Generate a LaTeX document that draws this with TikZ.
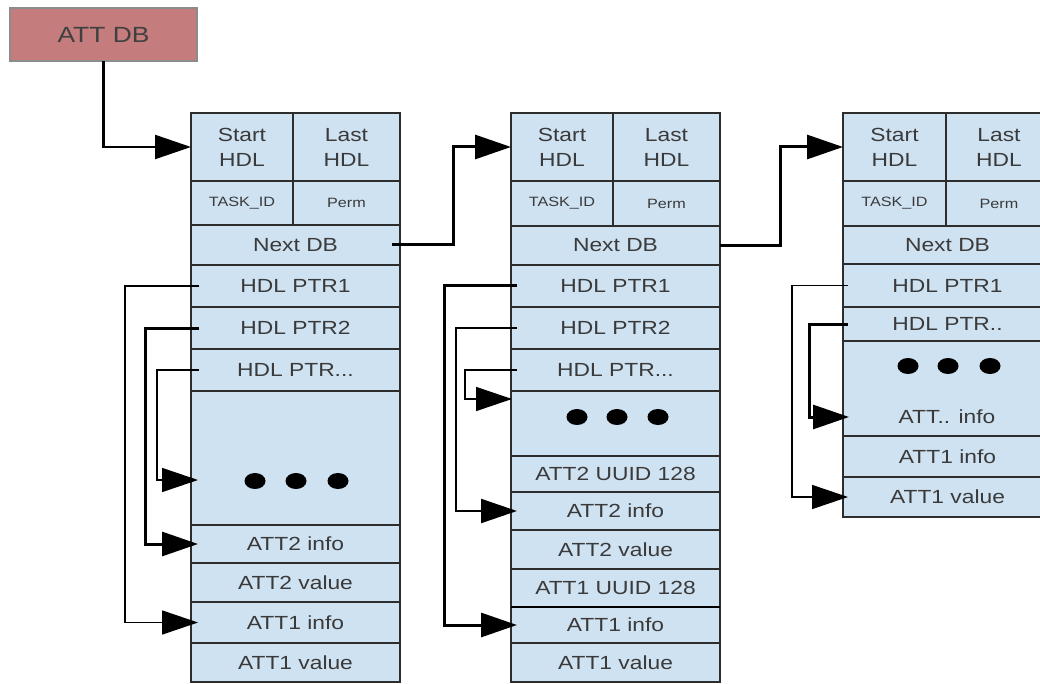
\documentclass[tikz,border=0pt]{standalone}
\usepackage{fontspec}
\setmainfont[FakeStretch=1.2]{Liberation Sans}
\usetikzlibrary{arrows.meta,shapes.geometric}
\definecolor{cellblue}{RGB}{207,226,242}
\definecolor{dbred}{RGB}{196,124,124}
\definecolor{dbedge}{RGB}{140,140,140}
\definecolor{txt}{RGB}{58,58,58}
\definecolor{edge}{RGB}{45,45,45}
\begin{document}
\begin{tikzpicture}[x=1pt,y=-1pt,
  cell/.style={draw=edge, fill=cellblue, line width=1.1pt, inner sep=0pt, outer sep=0pt,
    anchor=north west, text=txt, font=\fontsize{19}{25}\selectfont, align=center},
  smalltxt/.style={font=\fontsize{13.5}{16}\selectfont},
  dbbox/.style={draw=dbedge, fill=dbred, line width=1.2pt, inner sep=0pt, outer sep=0pt,
    anchor=north west, text=black!75, font=\fontsize{22}{26}\selectfont},
  blackdot/.style={ellipse, fill=black, minimum width=21pt, minimum height=16pt, inner sep=0pt},
  link/.style={draw=black, line width=1.6pt, -{Triangle[length=36pt,width=24pt]}},
  thicklink/.style={link, line width=3pt},
  midlink/.style={link, line width=2.2pt}
]
\useasboundingbox (0,0) rectangle (1040,684);
\clip (0,0) rectangle (1040,684);

% ATT DB
\node[dbbox, minimum width=187pt, minimum height=53pt] (attdb) at (10,8) {ATT DB};

% ---------------- Box 1 ----------------
\node[cell, minimum width=102pt, minimum height=68pt] (b1start) at (191,113) {Start\\HDL};
\node[cell, minimum width=107pt, minimum height=68pt] (b1last) at (293,113) {Last\\HDL};
\node[cell, smalltxt, minimum width=102pt, minimum height=44pt] (b1task) at (191,181) {TASK\_ID};
\node[cell, smalltxt, minimum width=107pt, minimum height=44pt] (b1perm) at (293,181) {Perm};
\node[cell, minimum width=209pt, minimum height=40pt] (b1next) at (191,225) {Next DB};
\node[cell, minimum width=209pt, minimum height=42pt] (b1p1) at (191,265) {HDL PTR1};
\node[cell, minimum width=209pt, minimum height=42pt] (b1p2) at (191,307) {HDL PTR2};
\node[cell, minimum width=209pt, minimum height=42pt] (b1p3) at (191,349) {HDL PTR...};
\node[cell, minimum width=209pt, minimum height=134pt] (b1dots) at (191,391) {};
\node[cell, minimum width=209pt, minimum height=38pt] (b1a2i) at (191,525) {ATT2 info};
\node[cell, minimum width=209pt, minimum height=39pt] (b1a2v) at (191,563) {ATT2 value};
\node[cell, minimum width=209pt, minimum height=41pt] (b1a1i) at (191,602) {ATT1 info};
\node[cell, minimum width=209pt, minimum height=39pt] (b1a1v) at (191,643) {ATT1 value};
\node[blackdot] (b1d1) at (255,481) {};
\node[blackdot] (b1d2) at (296,481) {};
\node[blackdot] (b1d3) at (338,481) {};
\coordinate (b1t3) at (198,480);

% ---------------- Box 2 ----------------
\node[cell, minimum width=102pt, minimum height=68pt] (b2start) at (511,113) {Start\\HDL};
\node[cell, minimum width=107pt, minimum height=68pt] (b2last) at (613,113) {Last\\HDL};
\node[cell, smalltxt, minimum width=102pt, minimum height=45pt] (b2task) at (511,181) {TASK\_ID};
\node[cell, smalltxt, minimum width=107pt, minimum height=45pt] (b2perm) at (613,181) {Perm};
\node[cell, minimum width=209pt, minimum height=39pt] (b2next) at (511,226) {Next DB};
\node[cell, minimum width=209pt, minimum height=42pt] (b2p1) at (511,265) {HDL PTR1};
\node[cell, minimum width=209pt, minimum height=42pt] (b2p2) at (511,307) {HDL PTR2};
\node[cell, minimum width=209pt, minimum height=42pt] (b2p3) at (511,349) {HDL PTR...};
\node[cell, minimum width=209pt, minimum height=65pt] (b2dots) at (511,391) {};
\node[cell, minimum width=209pt, minimum height=36pt] (b2u2) at (511,456) {ATT2 UUID 128};
\node[cell, minimum width=209pt, minimum height=38pt] (b2a2i) at (511,492) {ATT2 info};
\node[cell, minimum width=209pt, minimum height=39pt] (b2a2v) at (511,530) {ATT2 value};
\node[cell, minimum width=209pt, minimum height=38pt] (b2u1) at (511,569) {ATT1 UUID 128};
\node[cell, minimum width=209pt, minimum height=36pt] (b2a1i) at (511,607) {ATT1 info};
\node[cell, minimum width=209pt, minimum height=39pt] (b2a1v) at (511,643) {ATT1 value};
\draw[draw=black, line width=2.6pt] (b2a1i.north west) -- (b2a1i.north east);
\node[blackdot] (b2d1) at (577,417) {};
\node[blackdot] (b2d2) at (617,417) {};
\node[blackdot] (b2d3) at (658,417) {};
\coordinate (b2t3) at (512,399);

% ---------------- Box 3 ----------------
\node[cell, minimum width=103pt, minimum height=68pt] (b3start) at (843,113) {Start\\HDL};
\node[cell, minimum width=106pt, minimum height=68pt] (b3last) at (946,113) {Last\\HDL};
\node[cell, smalltxt, minimum width=103pt, minimum height=45pt] (b3task) at (843,181) {TASK\_ID};
\node[cell, smalltxt, minimum width=106pt, minimum height=45pt] (b3perm) at (946,181) {Perm};
\node[cell, minimum width=209pt, minimum height=38pt] (b3next) at (843,226) {Next DB};
\node[cell, minimum width=209pt, minimum height=43pt] (b3p1) at (843,264) {HDL PTR1};
\node[cell, minimum width=209pt, minimum height=34pt] (b3p2) at (843,307) {HDL PTR..};
\node[cell, minimum width=209pt, minimum height=95pt] (b3dots) at (843,341) {};
\node[cell, minimum width=209pt, minimum height=41pt] (b3a1i) at (843,436) {ATT1 info};
\node[cell, minimum width=209pt, minimum height=40pt] (b3a1v) at (843,477) {ATT1 value};
\node[blackdot] (b3d1) at (908,366) {};
\node[blackdot] (b3d2) at (948,366) {};
\node[blackdot] (b3d3) at (990,366) {};
\node[text=txt, font=\fontsize{19}{25}\selectfont, inner sep=0pt] (b3atti) at (947,417) {ATT.. info};
\coordinate (b3t2) at (849,417);

% ---------------- Connectors ----------------
\draw[midlink] (attdb.south) |- (b1start.west);
\draw[thicklink] ([xshift=-8pt]b1next.east) -| ([xshift=-58pt]b2start.west) -- (b2start.west);
\draw[thicklink] (b2next.east) -| ([xshift=-63pt]b3start.west) -- (b3start.west);

\draw[link] ([xshift=8pt]b1p1.west) -- ++(-74,0) |- ([xshift=7pt]b1a1i.west);
\draw[thicklink] ([xshift=8pt]b1p2.west) -- ++(-54,0) |- ([xshift=7pt]b1a2i.west);
\draw[link] ([xshift=8pt]b1p3.west) -- ++(-42,0) |- (b1t3);

\draw[thicklink] ([xshift=6pt]b2p1.west) -- ++(-73,0) |- ([xshift=6pt]b2a1i.west);
\draw[midlink] ([xshift=6pt]b2p2.west) -- ++(-61,0) |- ([xshift=6pt]b2a2i.west);
\draw[link] ([xshift=6pt]b2p3.west) -- ++(-52,0) |- (b2t3);

\draw[link] ([xshift=5pt]b3p1.west) -- ++(-56,0) |- ([xshift=5pt]b3a1v.west);
\draw[thicklink] ([xshift=5pt]b3p2.west) -- ++(-39,0) |- (b3t2);
\end{tikzpicture}
\end{document}
